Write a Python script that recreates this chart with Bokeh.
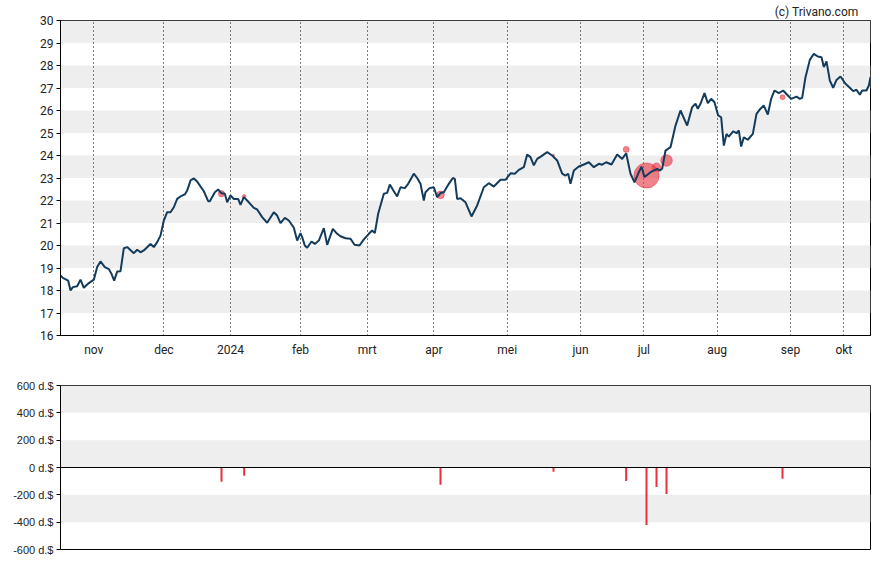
from bokeh.plotting import figure
from bokeh.models import Range1d, FixedTicker, Span
from bokeh.layouts import column
from bokeh.embed import file_html
from bokeh.resources import INLINE

# ---- data (x = trading-day index) ----
months = ["nov", "dec", "2024", "feb", "mrt", "apr", "mei", "jun", "jul", "aug", "sep", "okt"]
month_day = [10, 31, 51, 72, 92, 112, 134, 156, 175, 197, 219, 235]

day = [0, 0.7, 2.3, 3.0, 3.7, 5.0, 6.0, 7.0, 8.5, 10.0, 11.0, 12.0, 13.3, 14.5, 15.3, 16.1, 17.0, 18.0,
       19.0, 20.0, 22.0, 23.0, 24.0, 25.0, 27.0, 28.0, 29.0, 30.0, 31.0, 32.0, 33.0, 34.0, 35.0, 36.0,
       37.3, 38.0, 39.0, 40.0, 41.0, 43.0, 44.3, 44.8, 46.3, 47.3, 48.3, 49.3, 50.0, 51.0, 52.0, 53.3,
       54.0, 55.0, 56.5, 58.0, 59.0, 60.5, 62.0, 64.0, 65.0, 66.0, 67.3, 68.5, 70.0, 71.0, 72.0, 72.5,
       73.3, 74.0, 75.3, 76.3, 77.5, 79.0, 80.0, 81.7, 83.0, 84.0, 85.5, 87.0, 88.2, 89.7, 91.0, 92.5,
       93.5, 94.3, 95.3, 97.0, 98.0, 98.8, 100.0, 101.0, 102.0, 103.3, 104.3, 106.0, 107.0, 108.0,
       109.0, 109.5, 110.7, 112.0, 113.0, 114.0, 115.0, 116.5, 117.7, 118.3, 119.0, 120.0, 121.5,
       123.3, 125.0, 127.0, 128.5, 130.0, 132.0, 133.5, 135.0, 136.3, 137.5, 139.0, 140.0, 141.0,
       142.0, 143.0, 144.3, 146.0, 147.5, 149.0, 150.5, 151.5, 152.3, 153.0, 154.0, 155.5, 157.0,
       158.5, 160.0, 161.5, 162.5, 163.7, 165.3, 167.0, 168.5, 169.7, 171.0, 172.2, 173.5, 174.3,
       175.2, 177.0, 179.0, 179.7, 180.5, 181.5, 183.0, 184.5, 186.0, 188.0, 189.5, 190.5, 191.2,
       192.0, 193.2, 194.2, 195.2, 196.2, 197.3, 198.2, 199.0, 199.8, 200.5, 201.8, 202.8, 203.5,
       204.2, 205.0, 206.2, 207.7, 208.8, 210.0, 211.0, 212.2, 213.2, 214.2, 215.5, 216.8, 218.0,
       219.2, 220.8, 221.8, 222.5, 223.5, 224.8, 226.0, 227.2, 228.3, 229.0, 229.8, 230.8, 231.8,
       232.8, 234.0, 235.5, 236.8, 237.8, 238.8, 239.8, 240.5, 241.8, 242.5, 243.0]

price = [18.67, 18.56, 18.44, 18.0, 18.15, 18.19, 18.48, 18.12, 18.33, 18.48, 19.04, 19.29, 19.04,
         18.95, 18.74, 18.44, 18.84, 18.86, 19.88, 19.93, 19.66, 19.81, 19.7, 19.78, 20.07, 19.93,
         20.15, 20.44, 21.11, 21.48, 21.48, 21.7, 22.07, 22.18, 22.27, 22.44, 22.89, 22.98, 22.84,
         22.41, 21.97, 21.97, 22.37, 22.49, 22.32, 22.3, 21.92, 22.22, 22.07, 22.07, 21.81, 22.15,
         21.92, 21.67, 21.6, 21.26, 21.01, 21.48, 21.33, 20.99, 21.23, 21.11, 20.79, 20.22, 20.55,
         20.37, 20.0, 19.9, 20.18, 20.07, 20.22, 20.77, 20.03, 20.74, 20.52, 20.41, 20.32, 20.3,
         20.03, 20.0, 20.27, 20.52, 20.67, 20.55, 21.41, 22.3, 22.34, 22.71, 22.41, 22.18, 22.59,
         22.55, 22.74, 23.19, 23.0, 22.74, 22.0, 22.37, 22.55, 22.59, 22.15, 22.33, 22.37, 22.74,
         23.0, 22.96, 22.07, 22.1, 21.92, 21.29, 21.78, 22.59, 22.77, 22.62, 22.92, 22.92, 23.21,
         23.19, 23.36, 23.48, 24.04, 23.93, 23.56, 23.85, 23.97, 24.15, 24.0, 23.78, 23.19, 23.11,
         23.19, 22.74, 23.33, 23.51, 23.6, 23.7, 23.48, 23.63, 23.59, 23.7, 23.6, 24.04, 23.85, 24.1,
         23.19, 22.81, 23.26, 23.5, 23.04, 23.26, 23.41, 23.33, 23.41, 24.22, 24.37, 25.33, 26.0,
         25.33, 26.15, 26.3, 26.08, 26.3, 26.77, 26.33, 26.52, 26.37, 25.78, 25.7, 24.44, 24.96,
         24.84, 25.07, 24.99, 25.11, 24.4, 24.81, 24.7, 24.96, 25.85, 26.08, 26.22, 25.82, 26.52,
         26.89, 26.77, 26.89, 26.7, 26.52, 26.62, 26.52, 26.56, 27.48, 28.25, 28.52, 28.4, 28.37,
         27.93, 28.18, 27.33, 27.01, 27.36, 27.51, 27.19, 27.01, 26.86, 26.92, 26.7, 26.89, 26.89,
         27.11, 27.48]

trade_day = [48.3, 55.1, 114.0, 147.9, 169.7, 175.8, 178.8, 181.8, 216.6]
trade_price = [22.3, 22.18, 22.25, 24.01, 24.27, 23.11, 23.48, 23.78, 26.59]
trade_value = [-105, -61, -127, -32, -98, -420, -142, -193, -83]  # thousands of dollars

price_ticks = list(range(16, 31))
value_ticks = list(range(-600, 601, 200))

LINE = "#123b5c"
RED = "#e8313f"
BAND = "#eeeeee"
TXT = "#222222"

# ---- top chart ----
p = figure(width=880, height=365, x_range=Range1d(0, 243), y_range=Range1d(16, 30),
           output_backend="svg", toolbar_location=None, title="(c) Trivano.com",
           min_border_left=60, min_border_right=10, min_border_top=20, min_border_bottom=30)
p.title.align = "right"
p.title.offset = 12
p.title.standoff = 4
p.title.text_font = "Roboto"
p.title.text_font_size = "12px"
p.title.text_font_style = "normal"
p.title.text_color = TXT

p.background_fill_color = "white"
p.border_fill_color = "white"
p.outline_line_color = "black"
p.outline_line_alpha = 1.0

bands_top = [b for b in range(17, 30, 2)]
p.quad(left=0, right=243, bottom=bands_top, top=[b + 1 for b in bands_top],
       fill_color=BAND, line_color=None, level="image")

p.xgrid.ticker = FixedTicker(ticks=month_day)
p.xgrid.grid_line_color = "black"
p.xgrid.grid_line_dash = "1 3"
p.xgrid.grid_line_width = 1
p.ygrid.grid_line_color = None

p.xaxis.ticker = FixedTicker(ticks=month_day)
p.xaxis.major_label_overrides = {d: m for d, m in zip(month_day, months)}
p.xaxis.major_tick_out = 0
p.xaxis.major_tick_in = 0
p.xaxis.minor_tick_out = 0
p.xaxis.minor_tick_in = 0
p.xaxis.major_label_standoff = 7
p.xaxis.axis_line_color = "black"

p.yaxis.ticker = FixedTicker(ticks=price_ticks)
p.yaxis.major_tick_out = 4
p.yaxis.major_tick_in = 0
p.yaxis.minor_tick_out = 0
p.yaxis.minor_tick_in = 0
p.yaxis.major_label_standoff = 3
p.yaxis.axis_line_color = "black"
p.yaxis.major_tick_line_color = "black"

for ax in (p.xaxis[0], p.yaxis[0]):
    ax.major_label_text_font = "Roboto"
    ax.major_label_text_font_size = "12px"
    ax.major_label_text_color = TXT

p.scatter(trade_day, trade_price, size=[abs(v) * 0.06 for v in trade_value],
          fill_color=RED, fill_alpha=0.6, line_color=RED, line_alpha=0.5)
p.line(day, price, line_color=LINE, line_width=2)

# ---- bottom chart ----
q = figure(width=880, height=192, x_range=p.x_range, y_range=Range1d(-600, 600),
           output_backend="svg", toolbar_location=None,
           min_border_left=60, min_border_right=10, min_border_top=20, min_border_bottom=8)
q.background_fill_color = "white"
q.border_fill_color = "white"
q.outline_line_color = "black"
q.outline_line_alpha = 1.0
q.xgrid.grid_line_color = None
q.ygrid.grid_line_color = None
q.xaxis.visible = False

bands_bot = list(range(-400, 600, 400))
q.quad(left=0, right=243, bottom=bands_bot, top=[b + 200 for b in bands_bot],
       fill_color=BAND, line_color=None, level="image")
q.add_layout(Span(location=0, dimension="width", line_color="black", line_width=1))

q.yaxis.ticker = FixedTicker(ticks=value_ticks)
q.yaxis.major_label_overrides = {v: f"{v} d.$" for v in value_ticks}
q.yaxis.major_tick_out = 4
q.yaxis.major_tick_in = 0
q.yaxis.minor_tick_out = 0
q.yaxis.minor_tick_in = 0
q.yaxis.major_label_standoff = 3
q.yaxis.axis_line_color = "black"
q.yaxis.major_label_text_font = "Liberation Sans"
q.yaxis.major_label_text_font_size = "11px"
q.yaxis.major_label_text_color = TXT

q.segment(x0=trade_day, y0=[0] * len(trade_day), x1=trade_day, y1=trade_value,
          line_color=RED, line_width=2)

layout = column(p, q)
open("out.html", "w").write(file_html(layout, INLINE))
